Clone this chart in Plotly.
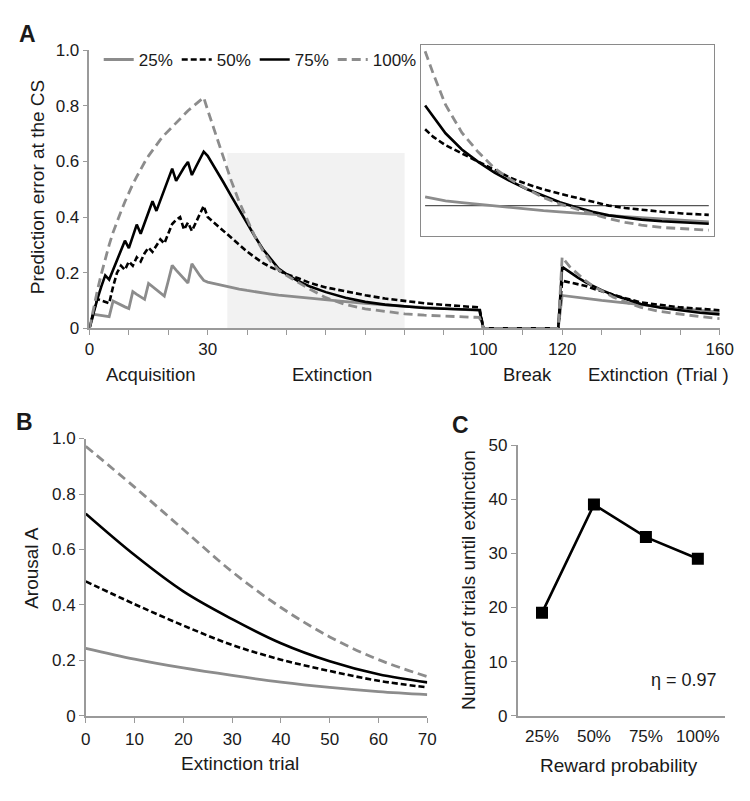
import plotly.graph_objects as go

# page body has an 8px margin, so the figure is drawn 8px in from the top-left corner
OFF = 8
W, H = 750 - 2 * OFF, 801 - 2 * OFF

# ---------------- Panel A data (prediction error at the CS) ----------------
trials_A = list(range(0, 30)) + [30, 32, 34, 36, 38, 40, 42, 44, 46, 48, 50, 53, 56, 60, 65, 70, 75, 80, 85, 90, 95, 99] \
    + [100, 119] + [120, 122, 124, 126, 128, 130, 133, 136, 140, 145, 150, 155, 160]

pe_25 = [0, 0.05, 0.048, 0.046, 0.044, 0.042, 0.098, 0.09, 0.083, 0.077, 0.071, 0.132, 0.122, 0.113, 0.104,
         0.161, 0.149, 0.137, 0.126, 0.116, 0.17, 0.226, 0.209, 0.193, 0.178, 0.163, 0.232, 0.21, 0.19, 0.172,
         0.166, 0.16, 0.153, 0.147, 0.141, 0.136, 0.131, 0.127, 0.123, 0.119, 0.116, 0.112, 0.107, 0.102, 0.096,
         0.09, 0.084, 0.079, 0.075, 0.071, 0.067, 0.064,
         0, 0,
         0.118, 0.115, 0.112, 0.108, 0.104, 0.1, 0.096, 0.092, 0.085, 0.077, 0.07, 0.064, 0.058]
pe_50 = [0, 0.06, 0.105, 0.10, 0.095, 0.09, 0.15, 0.20, 0.225, 0.21, 0.24, 0.225, 0.255, 0.24, 0.27,
         0.29, 0.275, 0.30, 0.32, 0.305, 0.34, 0.375, 0.39, 0.40, 0.355, 0.38, 0.35, 0.38, 0.41, 0.44,
         0.40, 0.375, 0.35, 0.323, 0.30, 0.276, 0.255, 0.235, 0.22, 0.207, 0.195, 0.18, 0.163, 0.147, 0.132,
         0.119, 0.107, 0.098, 0.09, 0.084, 0.079, 0.075,
         0, 0,
         0.171, 0.165, 0.16, 0.152, 0.142, 0.133, 0.12, 0.108, 0.093, 0.083, 0.075, 0.07, 0.065]
pe_75 = [0, 0.055, 0.105, 0.15, 0.19, 0.175, 0.21, 0.245, 0.28, 0.315, 0.288, 0.33, 0.373, 0.34, 0.38,
         0.42, 0.457, 0.422, 0.46, 0.50, 0.537, 0.574, 0.53, 0.555, 0.578, 0.598, 0.551, 0.58, 0.607, 0.635,
         0.62, 0.575, 0.525, 0.475, 0.425, 0.375, 0.33, 0.285, 0.25, 0.215, 0.195, 0.17, 0.15, 0.13, 0.11,
         0.095, 0.085, 0.078, 0.073, 0.07, 0.068, 0.066,
         0, 0,
         0.221, 0.2, 0.182, 0.165, 0.15, 0.137, 0.12, 0.105, 0.087, 0.074, 0.064, 0.056, 0.05]
pe_100 = [0, 0.07, 0.135, 0.195, 0.25, 0.30, 0.345, 0.385, 0.42, 0.455, 0.488, 0.518, 0.545, 0.572, 0.597,
          0.62, 0.64, 0.66, 0.678, 0.695, 0.71, 0.725, 0.74, 0.755, 0.77, 0.782, 0.794, 0.806, 0.818, 0.83,
          0.785, 0.70, 0.61, 0.53, 0.455, 0.39, 0.33, 0.28, 0.24, 0.21, 0.19, 0.165, 0.14, 0.11, 0.085,
          0.07, 0.06, 0.052, 0.047, 0.043, 0.041, 0.039,
          0, 0,
          0.256, 0.22, 0.195, 0.17, 0.15, 0.135, 0.112, 0.095, 0.075, 0.06, 0.05, 0.042, 0.035]

tickvals_A = list(range(0, 161, 10))
ticklabels_A = {0: "0", 30: "30", 100: "100", 120: "120", 160: "160"}
phase_labels = ["Acquisition", "Extinction", "Break", "Extinction", "(Trial )"]

# inset (magnified first extinction phase, inset units)
inset_x = [0, 2, 5, 9, 13, 17, 21, 25, 29, 33, 37, 41, 45, 49, 53, 58, 63, 69.5]
inset_25 = [0.163, 0.155, 0.146, 0.139, 0.132, 0.124, 0.116, 0.11, 0.105, 0.1, 0.094, 0.09, 0.085, 0.08, 0.075, 0.069, 0.063, 0.057]
inset_50 = [0.447, 0.415, 0.38, 0.345, 0.31, 0.274, 0.242, 0.216, 0.194, 0.176, 0.16, 0.142, 0.126, 0.116, 0.108, 0.1, 0.093, 0.087]
inset_75 = [0.547, 0.5, 0.43, 0.362, 0.31, 0.265, 0.228, 0.195, 0.167, 0.14, 0.119, 0.1, 0.085, 0.075, 0.067, 0.06, 0.055, 0.05]
inset_100 = [0.775, 0.68, 0.55, 0.433, 0.351, 0.283, 0.235, 0.195, 0.16, 0.133, 0.112, 0.09, 0.071, 0.056, 0.044, 0.034, 0.028, 0.023]
inset_threshold = 0.126

# ---------------- Panel B data (arousal) ----------------
ext_trial_B = [0, 10, 20, 30, 40, 50, 60, 70]
ar_25 = [0.244, 0.205, 0.173, 0.146, 0.122, 0.103, 0.088, 0.077]
ar_50 = [0.485, 0.403, 0.326, 0.256, 0.203, 0.162, 0.127, 0.103]
ar_75 = [0.729, 0.58, 0.449, 0.349, 0.262, 0.197, 0.15, 0.121]
ar_100 = [0.972, 0.825, 0.672, 0.52, 0.391, 0.285, 0.203, 0.142]

# ---------------- Panel C data ----------------
reward_prob = ["25%", "50%", "75%", "100%"]
trials_until_ext = [19, 39, 33, 29]
eta_text = "η = 0.97"

series_names = ["25%", "50%", "75%", "100%"]

GRAY = "#8c8c8c"
AXC = "#9a9a9a"
FONT = "Liberation Sans, Arial, sans-serif"
TXT = "#1a1a1a"

styles = [
    dict(color=GRAY, width=2.8),
    dict(color="black", width=2.6, dash="6px,3px"),
    dict(color="black", width=2.6),
    dict(color=GRAY, width=2.8, dash="9px,5px"),
]


def fx(px):
    return (px - OFF) / W


def fy(py):
    return 1 - (py - OFF) / H


fig = go.Figure()

# Panel A
for name, ys, st in zip(series_names, [pe_25, pe_50, pe_75, pe_100], styles):
    fig.add_trace(go.Scatter(x=trials_A, y=ys, mode="lines", name=name, line=st,
                             xaxis="x", yaxis="y", showlegend=True))
# empty spacer entry so the last legend label is not clipped
fig.add_trace(go.Scatter(x=[None], y=[None], mode="lines", name=" ", line=dict(color="rgba(0,0,0,0)"),
                         xaxis="x", yaxis="y", showlegend=True, hoverinfo="skip"))

# Inset
fig.add_trace(go.Scatter(x=[inset_x[0], inset_x[-1]], y=[inset_threshold, inset_threshold], mode="lines",
                         line=dict(color="#555555", width=1.2), xaxis="x2", yaxis="y2", showlegend=False))
for name, ys, st in zip(series_names, [inset_25, inset_50, inset_75, inset_100], styles):
    fig.add_trace(go.Scatter(x=inset_x, y=ys, mode="lines", name=name, line=st,
                             xaxis="x2", yaxis="y2", showlegend=False))

# Panel B
for name, ys, st in zip(series_names, [ar_25, ar_50, ar_75, ar_100], styles):
    fig.add_trace(go.Scatter(x=ext_trial_B, y=ys, mode="lines", name=name, line=st,
                             line_shape="spline", xaxis="x3", yaxis="y3", showlegend=False))

# Panel C
fig.add_trace(go.Scatter(x=list(range(len(reward_prob))), y=trials_until_ext, mode="lines+markers",
                         line=dict(color="black", width=2.6),
                         marker=dict(symbol="square", size=12, color="black"),
                         xaxis="x4", yaxis="y4", showlegend=False))

axis_common = dict(showgrid=False, zeroline=False, showline=True, linecolor=AXC, linewidth=1.5,
                   ticks="outside", tickcolor=AXC, tickwidth=1.2, ticklen=5,
                   tickfont=dict(family=FONT, size=17, color=TXT))

fig.update_layout(
    width=W, height=H,
    margin=dict(l=0, r=0, t=0, b=0),
    paper_bgcolor="white", plot_bgcolor="rgba(0,0,0,0)",
    font=dict(family=FONT, color=TXT),
    showlegend=True,
    legend=dict(orientation="h", x=fx(96), y=fy(52), xanchor="left", yanchor="middle",
                font=dict(family=FONT, size=17, color=TXT), bgcolor="rgba(0,0,0,0)",
                entrywidth=33, entrywidthmode="pixels", itemwidth=30),
    xaxis=dict(domain=[fx(86.5), fx(733.5)], range=[0, 160], anchor="y",
               tickvals=tickvals_A, ticktext=[ticklabels_A.get(v, "") for v in tickvals_A],
               **axis_common),
    yaxis=dict(domain=[fy(327), fy(42)], range=[0, 1.0], anchor="x",
               tickvals=[0, 0.2, 0.4, 0.6, 0.8, 1.0], ticktext=["0", "0.2", "0.4", "0.6", "0.8", "1.0"],
               **axis_common),
    xaxis2=dict(domain=[fx(427.3), fx(727.3)], range=[-0.9, 70.7], anchor="y2", showgrid=False,
                zeroline=False, showline=True, mirror=True, linecolor="#8a8a8a", linewidth=1.2,
                ticks="", showticklabels=False),
    yaxis2=dict(domain=[fy(232), fy(37)], range=[0, 0.8], anchor="x2", showgrid=False,
                zeroline=False, showline=True, mirror=True, linecolor="#8a8a8a", linewidth=1.2,
                ticks="", showticklabels=False),
    xaxis3=dict(domain=[fx(82.7), fx(433.3)], range=[0, 70], anchor="y3",
                tickvals=list(range(0, 71, 10)), ticklabelstandoff=2, **axis_common),
    yaxis3=dict(domain=[fy(724.3), fy(440)], range=[0, 1.0], anchor="x3",
                tickvals=[0, 0.2, 0.4, 0.6, 0.8, 1.0], ticktext=["0", "0.2", "0.4", "0.6", "0.8", "1.0"],
                **axis_common),
    xaxis4=dict(domain=[fx(526), fx(739.3)], range=[-0.47, 3.53], anchor="y4",
                tickvals=list(range(len(reward_prob))), ticktext=reward_prob, ticklabelstandoff=4,
                **{**axis_common, "ticks": ""}),
    yaxis4=dict(domain=[fy(724), fy(446.7)], range=[0, 50], anchor="x4",
                tickvals=list(range(0, 51, 10)), **axis_common),
)

# shaded region in panel A (magnified in inset)
fig.add_shape(type="rect", xref="x", yref="y", x0=35, x1=80, y0=0, y1=0.63,
              fillcolor="#f2f2f2", line=dict(width=0), layer="below")

ann = []


def add_text(text, px, py, size, bold=False, angle=0, xanchor="center"):
    ann.append(dict(text=("<b>%s</b>" % text) if bold else text, x=fx(px), y=fy(py), xref="paper", yref="paper",
                    showarrow=False, textangle=angle, xanchor=xanchor, yanchor="middle",
                    font=dict(family=FONT, size=size, color=TXT)))


add_text("A", 23, 25, 23, bold=True)
add_text("B", 20, 423, 23, bold=True)
add_text("C", 467, 426, 23, bold=True)

add_text("Prediction error at the CS", 33, 182, 19, angle=-90)
for lbl, cx in zip(phase_labels, [149, 335, 536, 639, 716]):
    add_text(lbl, cx, 374, 18.5)

add_text("Arousal A", 27, 573, 19, angle=-90)
add_text("Extinction trial", 241, 773, 19)

add_text("Number of trials until extinction", 475, 585, 19, angle=-90)
add_text("Reward probability", 630, 775, 19)
add_text(eta_text, 733, 687, 18, xanchor="right")

fig.update_layout(annotations=ann)

fig.write_html("out.html")
